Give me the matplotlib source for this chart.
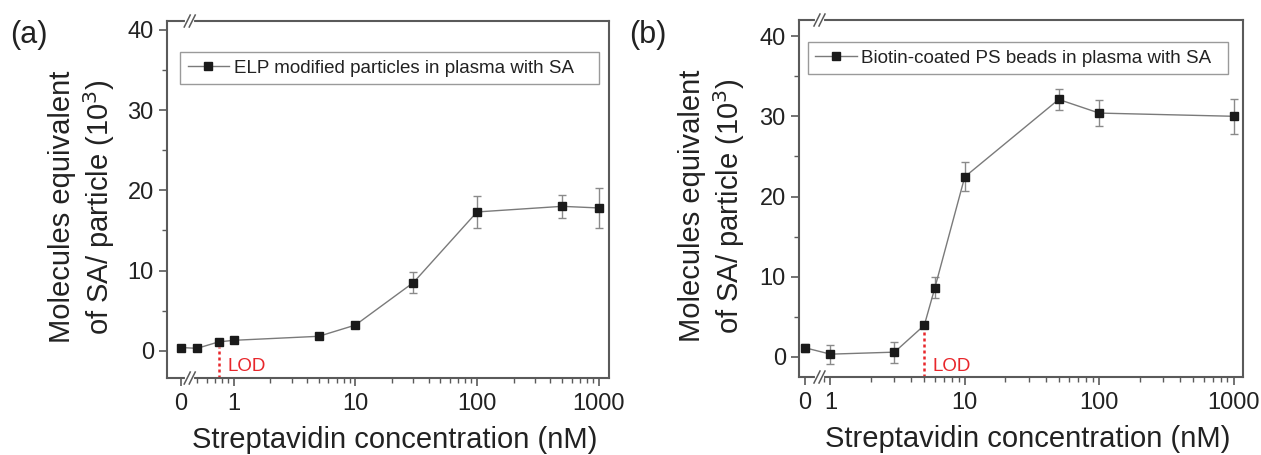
import numpy as np
import matplotlib.pyplot as plt
from matplotlib.ticker import FixedLocator, FixedFormatter, MultipleLocator, NullFormatter

plt.rcParams['font.family'] = ['Liberation Sans', 'DejaVu Sans']

# panel (a): ELP modified particles
conc_a = [0, 0.5, 0.75, 1, 5, 10, 30, 100, 500, 1000]
mol_a = [0.4, 0.3, 1.1, 1.3, 1.8, 3.2, 8.5, 17.3, 18.0, 17.8]
err_a = [0.2, 0.2, 0.2, 0.25, 0.2, 0.3, 1.35, 2.0, 1.45, 2.5]

# panel (b): biotin-coated PS beads
conc_b = [0, 1, 3, 5, 6, 10, 50, 100, 1000]
mol_b = [1.15, 0.35, 0.6, 3.95, 8.65, 22.45, 32.1, 30.4, 30.0]
err_b = [0.5, 1.2, 1.3, 0.4, 1.35, 1.8, 1.3, 1.65, 2.2]

xtick_labels = ['0', '1', '10', '100', '1000']
legend_a = 'ELP modified particles in plasma with SA'
legend_b = 'Biotin-coated PS beads in plasma with SA'
ylabel = 'Molecules equivalent\nof SA/ particle (10$^3$)'
xlabel = 'Streptavidin concentration (nM)'

SPINE = '#5a5a5a'
LINE = '#7a7a7a'
RED = '#e8262b'


def draw_break(ax, xpos, xlim):
    # two slashes on top and bottom spines
    f = (np.log10(xpos) - np.log10(xlim[0])) / (np.log10(xlim[1]) - np.log10(xlim[0]))
    bb = ax.get_window_extent()
    dx = 3.0 / bb.width
    dy = 6.0 / bb.height
    gap = 5.0 / bb.width
    for yb in (0, 1):
        ax.plot([f - gap / 2, f + gap / 2], [yb, yb], color='white', lw=3,
                transform=ax.transAxes, clip_on=False, zorder=5)
        for s in (-gap / 2, gap / 2):
            ax.plot([f + s - dx, f + s + dx], [yb - dy, yb + dy], color=SPINE, lw=1.1,
                    transform=ax.transAxes, clip_on=False, zorder=6)


def draw_panel(ax, conc, mol, err, zero_pos, brk, xlim, ylim, lod, lod_text, label, leg_box):
    conc = np.asarray(conc, dtype=float)
    x = np.where(conc == 0, zero_pos, conc)
    ax.set_xscale('log')
    ax.set_xlim(xlim)
    ax.set_ylim(ylim)

    ax.errorbar(x, mol, yerr=err, fmt='none', ecolor='#8a8a8a', elinewidth=1.0,
                capsize=3.2, capthick=1.0, zorder=2)
    ax.plot(x, mol, '-', color=LINE, lw=1.0, marker='s', ms=5.8,
            mfc='#1a1a1a', mec='#1a1a1a', label=label, zorder=3)

    i = list(conc).index(lod)
    ax.vlines(lod, ylim[0], mol[i] - 0.6, colors=RED, linestyles=(0, (1.2, 1.2)), lw=1.8, zorder=1)
    ax.text(lod_text[0], lod_text[1], 'LOD', color=RED, fontsize=13.5, va='center', ha='left')

    ax.xaxis.set_major_locator(FixedLocator([zero_pos, 1, 10, 100, 1000]))
    ax.xaxis.set_major_formatter(FixedFormatter(xtick_labels))
    minors = [m * 10.0 ** d for d in range(-1, 3) for m in range(2, 10)]
    minors = [v for v in minors if v > brk * 1.08 and v < xlim[1]]
    ax.xaxis.set_minor_locator(FixedLocator(minors))
    ax.xaxis.set_minor_formatter(NullFormatter())

    ax.yaxis.set_major_locator(FixedLocator([0, 10, 20, 30, 40]))
    ax.yaxis.set_minor_locator(MultipleLocator(5))

    ax.tick_params(which='both', direction='out', colors=SPINE, labelcolor='#222222',
                   top=False, right=False)
    ax.tick_params(which='major', length=6, width=1.2, labelsize=17)
    ax.tick_params(which='minor', length=3.5, width=1.0)
    ax.tick_params(axis='x', which='major', pad=5)
    for sp in ax.spines.values():
        sp.set_color(SPINE)
        sp.set_linewidth(1.5)

    ax.set_ylabel(ylabel, fontsize=21, color='#222222', linespacing=1.2)
    ax.set_xlabel(xlabel, fontsize=21, color='#222222')

    leg = ax.legend(loc='upper left', bbox_to_anchor=leg_box, mode='expand',
                    borderaxespad=0, fontsize=13.5, handlelength=2.2, handletextpad=0.25,
                    fancybox=False, framealpha=1, edgecolor='#9a9a9a', borderpad=0.4)
    leg.get_frame().set_linewidth(1.0)
    for t in leg.get_texts():
        t.set_color('#222222')

    draw_break(ax, brk, xlim)


fig = plt.figure(figsize=(12.61, 4.55), dpi=100)
ax_a = fig.add_axes([0.1324, 0.1692, 0.3505, 0.7846])
ax_b = fig.add_axes([0.6336, 0.1714, 0.3521, 0.7846])

draw_panel(ax_a, conc_a, mol_a, err_a, zero_pos=0.366, brk=0.434,
           xlim=(0.282, 1216), ylim=(-3.4, 41.1), lod=0.75, lod_text=(0.88, -2.0),
           label=legend_a, leg_box=(0.03, 0.80, 0.947, 0.113))
draw_panel(ax_b, conc_b, mol_b, err_b, zero_pos=0.646, brk=0.83,
           xlim=(0.584, 1175), ylim=(-2.5, 42.0), lod=5, lod_text=(5.8, -1.25),
           label=legend_b, leg_box=(0.02, 0.825, 0.946, 0.113))

ax_a.yaxis.set_label_coords(-0.113, 0.479)
ax_b.yaxis.set_label_coords(-0.117, 0.479)
for ax in (ax_a, ax_b):
    ax.xaxis.set_label_coords(0.515, -0.135)

fig.text(0.008, 0.905, '(a)', fontsize=22, color='#222222')
fig.text(0.499, 0.905, '(b)', fontsize=22, color='#222222')

fig.savefig('out.png', dpi=100)
